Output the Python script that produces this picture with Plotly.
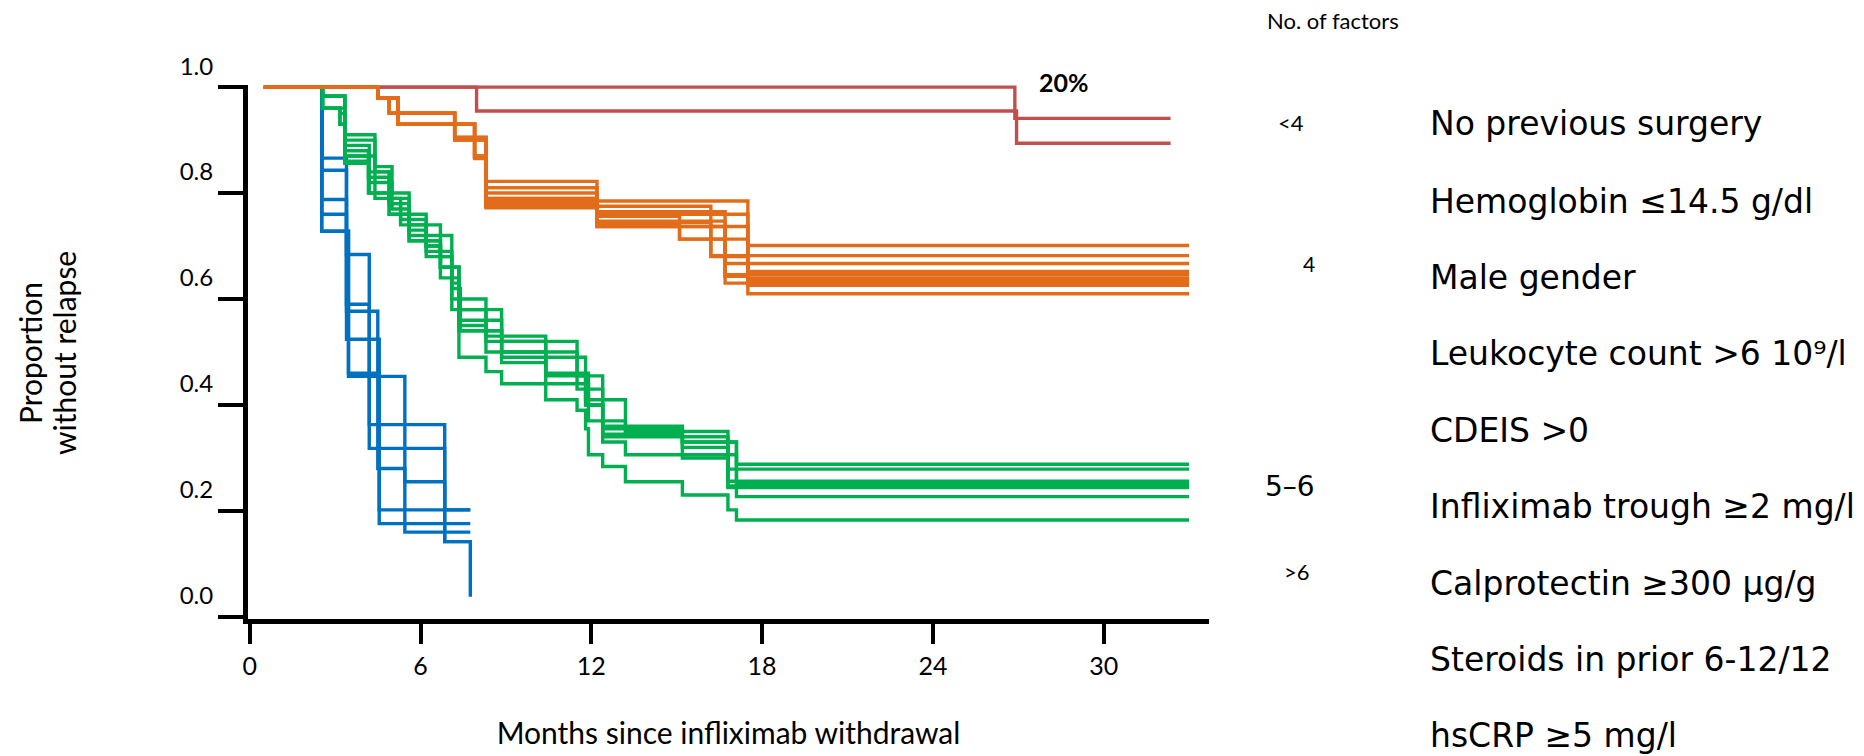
import plotly.graph_objects as go

# ---------------- data ----------------
x_tick_vals = [0, 6, 12, 18, 24, 30]
y_tick_vals = [0.0, 0.2, 0.4, 0.6, 0.8, 1.0]

blue_end = 7.75
red_end = 32.35
main_end = 33.0

blue_times = [
    [0.5, 2.53, 3.40, 4.20, 6.85],
    [0.5, 2.53, 3.40, 4.20, 6.85, 7.75],
    [0.5, 2.53, 3.40, 4.50, 5.45],
    [0.5, 2.53, 3.40, 4.55],
    [0.5, 2.53, 3.47, 5.45, 6.85],
    [0.5, 2.53, 3.47, 4.55],
]
blue_surv = [
    [1.0, 0.866, 0.684, 0.363, 0.202],
    [1.0, 0.843, 0.590, 0.318, 0.142, 0.038],
    [1.0, 0.788, 0.577, 0.280, 0.160],
    [1.0, 0.760, 0.524, 0.202],
    [1.0, 0.728, 0.454, 0.255, 0.142],
    [1.0, 0.728, 0.460, 0.176],
]

green_times = [
    [0.5, 2.56, 3.34, 4.40, 5.00, 5.60, 6.20, 7.10, 7.35, 8.85, 11.5, 12.4, 15.2, 17.1],
    [0.5, 2.56, 3.17, 3.34, 4.20, 4.90, 5.60, 6.70, 7.10, 8.30, 10.4, 11.8, 13.2, 15.2, 16.8],
    [0.5, 2.56, 3.34, 4.17, 4.90, 5.30, 6.20, 6.70, 7.35, 8.85, 11.5, 12.4, 15.2, 16.8],
    [0.5, 2.56, 3.17, 3.34, 4.40, 5.00, 5.60, 6.20, 7.10, 7.35, 8.85, 11.8, 12.4, 15.2, 17.1],
    [0.5, 2.56, 3.34, 4.20, 4.40, 5.30, 5.60, 6.70, 7.10, 8.30, 10.4, 11.9, 13.2, 16.8],
    [0.5, 2.56, 3.17, 3.34, 4.20, 4.90, 5.60, 6.20, 7.10, 7.40, 8.85, 10.4, 11.8, 12.4, 15.2, 16.8],
    [0.5, 2.56, 3.34, 4.40, 4.90, 5.60, 6.20, 6.70, 7.35, 8.30, 10.4, 11.9, 12.4, 13.2, 17.1],
    [0.5, 2.56, 3.34, 4.17, 4.90, 5.60, 6.70, 7.35, 8.30, 8.85, 10.4, 11.5, 11.8, 11.9, 12.4, 13.2, 15.2, 16.8, 17.1],
]
green_surv = [
    [1.0, 0.983, 0.91, 0.85, 0.80, 0.76, 0.72, 0.66, 0.54, 0.52, 0.455, 0.36, 0.33, 0.288],
    [1.0, 0.96, 0.93, 0.89, 0.84, 0.78, 0.74, 0.68, 0.60, 0.52, 0.455, 0.41, 0.35, 0.32, 0.279],
    [1.0, 0.983, 0.88, 0.83, 0.78, 0.74, 0.70, 0.66, 0.58, 0.50, 0.43, 0.355, 0.34, 0.256],
    [1.0, 0.96, 0.95, 0.87, 0.82, 0.77, 0.73, 0.69, 0.63, 0.56, 0.49, 0.40, 0.34, 0.33, 0.251],
    [1.0, 0.983, 0.856, 0.82, 0.79, 0.75, 0.71, 0.66, 0.58, 0.53, 0.46, 0.37, 0.35, 0.247],
    [1.0, 0.96, 0.93, 0.86, 0.80, 0.76, 0.72, 0.68, 0.62, 0.54, 0.48, 0.457, 0.40, 0.345, 0.30, 0.244],
    [1.0, 0.983, 0.90, 0.84, 0.79, 0.75, 0.70, 0.64, 0.55, 0.50, 0.44, 0.40, 0.33, 0.306, 0.227],
    [1.0, 0.96, 0.87, 0.80, 0.76, 0.71, 0.66, 0.49, 0.463, 0.44, 0.41, 0.39, 0.355, 0.306, 0.284, 0.255, 0.23, 0.202, 0.183],
]

red_times = [
    [0.5, 26.88],
    [0.5, 7.97, 26.94],
]
red_surv = [
    [1.0, 0.941],
    [1.0, 0.955, 0.894],
]

orange_times = [
    [0.5, 4.5, 4.9, 7.2, 8.3, 12.2, 17.5],
    [0.5, 4.5, 4.9, 7.2, 8.3, 12.2, 16.2],
    [0.5, 4.5, 5.2, 7.2, 8.3, 12.2, 16.7],
    [0.5, 4.5, 5.2, 7.9, 8.3, 12.2, 15.1, 17.5],
    [0.5, 4.5, 5.2, 7.9, 8.3, 12.2, 16.7],
    [0.5, 4.5, 5.2, 7.9, 8.3, 12.2, 17.5],
    [0.5, 4.5, 4.9, 7.2, 8.3, 12.2, 16.2, 17.5],
    [0.5, 4.5, 5.2, 7.9, 8.3, 12.2, 15.1, 16.7],
    [0.5, 4.5, 4.9, 7.2, 8.3, 12.2, 17.5],
    [0.5, 4.5, 5.2, 7.9, 8.3, 12.2, 16.7, 17.5],
]
orange_surv = [
    [1.0, 0.98, 0.951, 0.905, 0.822, 0.785, 0.701],
    [1.0, 0.98, 0.951, 0.905, 0.810, 0.775, 0.682],
    [1.0, 0.98, 0.951, 0.900, 0.800, 0.765, 0.667],
    [1.0, 0.98, 0.930, 0.870, 0.790, 0.756, 0.713, 0.652],
    [1.0, 0.98, 0.930, 0.870, 0.785, 0.747, 0.646],
    [1.0, 0.98, 0.930, 0.868, 0.780, 0.737, 0.640],
    [1.0, 0.98, 0.951, 0.900, 0.775, 0.745, 0.680, 0.635],
    [1.0, 0.98, 0.930, 0.865, 0.772, 0.740, 0.713, 0.630],
    [1.0, 0.98, 0.951, 0.905, 0.790, 0.760, 0.626],
    [1.0, 0.98, 0.930, 0.868, 0.775, 0.737, 0.643, 0.610],
]

factor_groups = ["<4", "4", "5–6", ">6"]
risk_factors = [
    "No previous surgery",
    "Hemoglobin ≤14.5 g/dl",
    "Male gender",
    "Leukocyte count >6 10⁹/l",
    "CDEIS >0",
    "Infliximab trough ≥2 mg/l",
    "Calprotectin ≥300 μg/g",
    "Steroids in prior 6-12/12",
    "hsCRP ≥5 mg/l",
]
risk_label = "20%"

# ---------------- styling ----------------
W, H = 1864, 756
PL, PR, PT, PB = 240, 1201, 77, 611
CHART_FONT = "Lato, 'Open Sans', sans-serif"
RIGHT_FONT = "'DejaVu Sans', Verdana, sans-serif"
COL_BLUE = "#0070C0"
COL_GREEN = "#00B050"
COL_RED = "#C0504D"
COL_ORANGE = "#E36C1A"
LW = 3.4


def paper_x(px):
    return (px - PL) / (PR - PL)


def paper_y(py):
    return (PB - py) / (PB - PT)


fig = go.Figure()


def add_group(times, surv, end, color):
    for t, s in zip(times, surv):
        xs = list(t) + [end]
        ys = list(s) + [s[-1]]
        fig.add_trace(go.Scatter(
            x=xs, y=ys, mode="lines", line=dict(color=color, width=LW, shape="hv"),
            showlegend=False, hoverinfo="skip"))


add_group(blue_times, blue_surv, blue_end, COL_BLUE)
add_group(green_times, green_surv, main_end, COL_GREEN)
add_group(red_times, red_surv, red_end, COL_RED)
add_group(orange_times, orange_surv, main_end, COL_ORANGE)

annotations = []
# y-axis title (two lines)
annotations.append(dict(text="Proportion", x=paper_x(22), y=paper_y(345), xref="paper", yref="paper",
                        showarrow=False, textangle=-90, xanchor="center", yanchor="middle",
                        font=dict(family=CHART_FONT, size=30, color="#000")))
annotations.append(dict(text="without relapse", x=paper_x(56), y=paper_y(345), xref="paper", yref="paper",
                        showarrow=False, textangle=-90, xanchor="center", yanchor="middle",
                        font=dict(family=CHART_FONT, size=30, color="#000")))
# header
annotations.append(dict(text="No. of factors", x=paper_x(1325), y=paper_y(13), xref="paper", yref="paper",
                        showarrow=False, xanchor="center", yanchor="middle",
                        font=dict(family=CHART_FONT, size=22, color="#000")))
# factor group labels
grp_pos = [(1283, 115, 22, CHART_FONT), (1301, 255, 21, CHART_FONT),
           (1282, 478, 28, RIGHT_FONT), (1289, 563, 22, CHART_FONT)]
for lab, (gx, gy, gs, gf) in zip(factor_groups, grp_pos):
    annotations.append(dict(text=lab, x=paper_x(gx), y=paper_y(gy), xref="paper", yref="paper",
                            showarrow=False, xanchor="center", yanchor="middle",
                            font=dict(family=gf, size=gs, color="#000")))
# risk factor list
row_y = [116, 193, 269, 345, 422, 498, 575, 651, 727]
for lab, ry in zip(risk_factors, row_y):
    annotations.append(dict(text=lab, x=paper_x(1420), y=paper_y(ry), xref="paper", yref="paper",
                            showarrow=False, xanchor="left", yanchor="middle",
                            font=dict(family=RIGHT_FONT, size=33, color="#000")))
# 20% label
annotations.append(dict(text="<b>%s</b>" % risk_label, x=paper_x(1056), y=paper_y(74), xref="paper", yref="paper",
                        showarrow=False, xanchor="center", yanchor="middle",
                        font=dict(family=CHART_FONT, size=25, color="#000")))

fig.update_layout(
    width=W, height=H,
    margin=dict(l=PL, r=W - PR, t=PT, b=H - PB, pad=0),
    paper_bgcolor="white", plot_bgcolor="white",
    showlegend=False,
    annotations=annotations,
    xaxis=dict(
        range=[-0.06, 33.7], tickvals=x_tick_vals, ticktext=[str(v) for v in x_tick_vals],
        showgrid=False, zeroline=False, showline=True, linecolor="black", linewidth=5,
        ticks="outside", ticklen=20, tickwidth=4, tickcolor="black",
        tickfont=dict(family=CHART_FONT, size=25, color="#000"),
        ticklabelstandoff=1,
        title=dict(text="Months since infliximab withdrawal", standoff=45,
                   font=dict(family=CHART_FONT, size=30, color="#000")),
        fixedrange=True,
    ),
    yaxis=dict(
        range=[-0.004, 1.004], tickvals=y_tick_vals, ticktext=["%.1f" % v for v in y_tick_vals],
        showgrid=False, zeroline=False, showline=True, linecolor="black", linewidth=5,
        ticks="outside", ticklen=25, tickwidth=4, tickcolor="black",
        tickfont=dict(family=CHART_FONT, size=24, color="#000"),
        ticklabelshift=-21, ticklabelstandoff=0,
        fixedrange=True,
    ),
)

fig.write_html("out.html")
